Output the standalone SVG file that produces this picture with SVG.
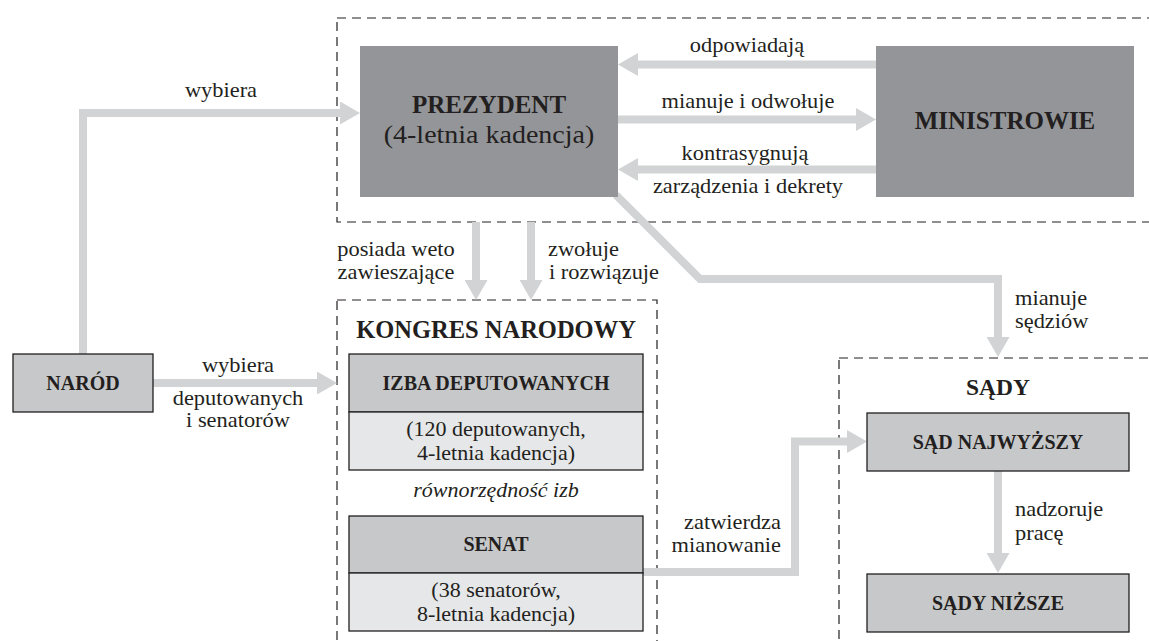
<svg xmlns="http://www.w3.org/2000/svg" width="1149" height="641" viewBox="0 0 1149 641">
<style>
  text { font-family: "Liberation Serif", "Times New Roman", serif; fill: #231f20; }
  .lbl { font-size: 20px; }
  .b { font-weight: bold; }
  .it { font-style: italic; }
  .dash { fill: none; stroke: #231f20; stroke-width: 1.2; stroke-dasharray: 9 6; }
  .dark { fill: #939598; }
  .head { fill: #c7c8ca; stroke: #231f20; stroke-width: 1.3; }
  .low { fill: #e6e7e8; stroke: #231f20; stroke-width: 1.3; }
  .conn { fill: none; stroke: #d1d3d4; stroke-width: 8; stroke-linejoin: miter; marker-end: url(#ah); }
</style>
<defs>
  <marker id="ah" markerUnits="userSpaceOnUse" viewBox="0 0 20 23" markerWidth="20" markerHeight="23" refX="1" refY="11.5" orient="auto">
    <path d="M0,0 L20,11.5 L0,23 Z" fill="#d1d3d4"/>
  </marker>
</defs>
<rect width="1149" height="641" fill="#ffffff"/>

<g id="frames">
  <rect class="dash" x="337" y="18" width="815" height="204"/>
  <rect class="dash" x="337" y="300" width="320" height="360"/>
  <rect class="dash" x="839" y="358" width="313" height="300"/>
</g>

<g id="connectors">
  <path class="conn" d="M83,354 V113 H341"/>
  <path class="conn" d="M153,383 H318"/>
  <path class="conn" d="M876,64.5 H637"/>
  <path class="conn" d="M618,119.5 H857"/>
  <path class="conn" d="M876,169.5 H637"/>
  <path class="conn" d="M476,222 V281"/>
  <path class="conn" d="M531,222 V281"/>
  <path class="conn" d="M616,195 L700,279 H998 V338"/>
  <path class="conn" d="M643,572 H795 V441.5 H848"/>
  <path class="conn" d="M998,471 V554"/>
</g>

<g id="prezydent">
  <rect class="dark" x="360" y="46" width="258" height="151"/>
  <text class="b" x="489" y="113" font-size="25" text-anchor="middle">PREZYDENT</text>
  <text transform="translate(489,143) scale(1.12,1)" font-size="25" text-anchor="middle">(4-letnia kadencja)</text>
</g>

<g id="ministrowie">
  <rect class="dark" x="876" y="46" width="258" height="151"/>
  <text class="b" x="1005" y="129" font-size="25" text-anchor="middle">MINISTROWIE</text>
</g>

<g id="narod">
  <rect class="head" x="13" y="354" width="140" height="58"/>
  <text class="b" x="83" y="390" font-size="20" text-anchor="middle">NARÓD</text>
</g>

<g id="kongres">
  <text class="b" x="496" y="338" font-size="24.5" text-anchor="middle">KONGRES NARODOWY</text>
  <text class="it" transform="translate(496,497) scale(1.1,1)" font-size="20" text-anchor="middle">równorzędność izb</text>
</g>

<g id="izba">
  <rect class="head" x="349" y="354" width="294" height="58"/>
  <rect class="low" x="349" y="412" width="294" height="58"/>
  <text class="b" x="496" y="390" font-size="20" text-anchor="middle">IZBA DEPUTOWANYCH</text>
  <text class="lbl" transform="translate(496,436) scale(1.1,1)" text-anchor="middle">(120 deputowanych,</text>
  <text class="lbl" transform="translate(496,460) scale(1.1,1)" text-anchor="middle">4-letnia kadencja)</text>
</g>

<g id="senat">
  <rect class="head" x="349" y="516" width="294" height="57"/>
  <rect class="low" x="349" y="573" width="294" height="58"/>
  <text class="b" x="496" y="551" font-size="20" text-anchor="middle">SENAT</text>
  <text class="lbl" transform="translate(496,597) scale(1.1,1)" text-anchor="middle">(38 senatorów,</text>
  <text class="lbl" transform="translate(496,621) scale(1.1,1)" text-anchor="middle">8-letnia kadencja)</text>
</g>

<g id="sady">
  <text class="b" x="998" y="395" font-size="23.5" text-anchor="middle">SĄDY</text>
</g>

<g id="sad-najwyzszy">
  <rect class="head" x="867" y="413" width="262" height="58"/>
  <text class="b" x="998" y="449" font-size="20" text-anchor="middle">SĄD NAJWYŻSZY</text>
</g>

<g id="sady-nizsze">
  <rect class="head" x="867" y="574" width="262" height="58"/>
  <text class="b" x="998" y="610" font-size="20" text-anchor="middle">SĄDY NIŻSZE</text>
</g>

<g id="labels">
  <text class="lbl" transform="translate(221,97) scale(1.12,1)" text-anchor="middle">wybiera</text>
  <text class="lbl" transform="translate(238,372) scale(1.12,1)" text-anchor="middle">wybiera</text>
  <text class="lbl" transform="translate(238,405) scale(1.12,1)" text-anchor="middle">deputowanych</text>
  <text class="lbl" transform="translate(238,427) scale(1.12,1)" text-anchor="middle">i senatorów</text>
  <text class="lbl" transform="translate(747,52) scale(1.12,1)" text-anchor="middle">odpowiadają</text>
  <text class="lbl" transform="translate(748,108) scale(1.12,1)" text-anchor="middle">mianuje i odwołuje</text>
  <text class="lbl" transform="translate(745,160) scale(1.12,1)" text-anchor="middle">kontrasygnują</text>
  <text class="lbl" transform="translate(748,193) scale(1.12,1)" text-anchor="middle">zarządzenia i dekrety</text>
  <text class="lbl" transform="translate(396,256) scale(1.12,1)" text-anchor="middle">posiada weto</text>
  <text class="lbl" transform="translate(396,279) scale(1.12,1)" text-anchor="middle">zawieszające</text>
  <text class="lbl" transform="translate(548,256) scale(1.12,1)">zwołuje</text>
  <text class="lbl" transform="translate(549,279) scale(1.12,1)">i rozwiązuje</text>
  <text class="lbl" transform="translate(1015,305) scale(1.12,1)">mianuje</text>
  <text class="lbl" transform="translate(1015,328) scale(1.12,1)">sędziów</text>
  <text class="lbl" transform="translate(781,529) scale(1.12,1)" text-anchor="end">zatwierdza</text>
  <text class="lbl" transform="translate(781,552) scale(1.12,1)" text-anchor="end">mianowanie</text>
  <text class="lbl" transform="translate(1015,516) scale(1.12,1)">nadzoruje</text>
  <text class="lbl" transform="translate(1015,540) scale(1.12,1)">pracę</text>
</g>
</svg>
